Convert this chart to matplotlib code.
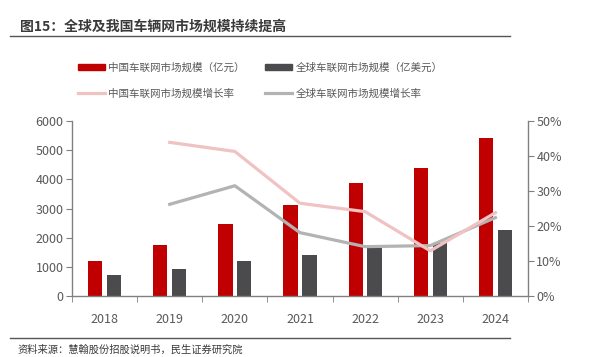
import matplotlib
matplotlib.use("Agg")
import matplotlib.pyplot as plt
import numpy as np
from matplotlib.patches import Patch
from matplotlib.lines import Line2D

plt.rcParams['font.family'] = ['Noto Sans CJK SC', 'DejaVu Sans']

years = ['2018', '2019', '2020', '2021', '2022', '2023', '2024']
china_size = [1200, 1740, 2460, 3110, 3870, 4380, 5420]
global_size = [720, 915, 1200, 1420, 1660, 1830, 2275]
china_growth = [None, 43.9, 41.3, 26.5, 24.1, 12.9, 23.8]
global_growth = [None, 26.2, 31.5, 18.1, 14.1, 14.4, 22.4]

RED = '#C00000'
DARK = '#4B4B4D'
PINK = '#F0C2C2'
GRAY = '#B3B3B3'
TXT = '#595959'
AX = '#808080'

fig = plt.figure(figsize=(5.98, 3.57), dpi=100)
ax = fig.add_axes([72/598, 1-296/357, (528-72)/598, (296-121)/357])
ax2 = ax.twinx()

x = np.arange(len(years))
w = 0.22
ax.bar(x - 0.145, china_size, w, color=RED, zorder=2)
ax.bar(x + 0.145, global_size, w, color=DARK, zorder=2)

ax.set_ylim(0, 6000)
ax.set_yticks(range(0, 6001, 1000))
ax.set_xlim(-0.5, 6.5)
ax.set_xticks(x)
ax.set_xticklabels(years)
ax.set_xticks(np.arange(-0.5, 7, 1), minor=True)
ax.tick_params(axis='x', which='major', length=0, pad=12, labelsize=9, labelcolor=TXT)
ax.tick_params(axis='x', which='minor', length=4, color=AX, direction='out')
ax.tick_params(axis='y', length=4, color=AX, labelsize=9, labelcolor=TXT, pad=2)

gx = [i for i, v in enumerate(china_growth) if v is not None]
ax2.plot(gx, [global_growth[i] for i in gx], color=GRAY, lw=2.3, zorder=3)
ax2.plot(gx, [china_growth[i] for i in gx], color=PINK, lw=2.3, zorder=4)
ax2.set_ylim(0, 50)
ax2.set_yticks(range(0, 51, 10))
ax2.set_yticklabels([f'{v}%' for v in range(0, 51, 10)])
ax2.tick_params(axis='y', length=4, color=AX, labelsize=9, labelcolor=TXT, pad=2)

for a in (ax, ax2):
    a.spines['top'].set_visible(False)
    for s in ('left', 'right', 'bottom'):
        a.spines[s].set_color(AX)
        a.spines[s].set_linewidth(1.0)
ax.spines['right'].set_visible(False)
ax2.spines['left'].set_visible(False)
ax2.spines['bottom'].set_visible(False)
ax.set_zorder(1)
ax2.set_zorder(2)
ax2.patch.set_visible(False)

handles = [Patch(color=RED), Line2D([], [], color=PINK, lw=2.3),
           Patch(color=DARK), Line2D([], [], color=GRAY, lw=2.3)]
labels = ['中国车联网市场规模（亿元）', '中国车联网市场规模增长率',
          '全球车联网市场规模（亿美元）', '全球车联网市场规模增长率']
leg = fig.legend(handles, labels, ncol=2, loc='center', bbox_to_anchor=(0.435, 0.7745),
                 frameon=False, fontsize=7.6, handlelength=2.6, handleheight=0.6,
                 handletextpad=0.3, columnspacing=1.9, labelspacing=1.45)
for t in leg.get_texts():
    t.set_color(TXT)

fig.text(20/598, 1-27/357, '图15：全球及我国车辆网市场规模持续提高', fontsize=10,
         fontweight='bold', color='#3a3a3a', va='center', ha='left')
fig.add_artist(Line2D([10/598, 510/598], [1-36/357, 1-36/357], color='#555555', lw=1.0))
fig.add_artist(Line2D([10/598, 510/598], [1-338/357, 1-338/357], color='#555555', lw=1.0))
fig.text(18/598, 1-350/357, '资料来源：慧翰股份招股说明书，民生证券研究院', fontsize=7.4,
         color='#3a3a3a', va='center', ha='left')

fig.savefig('out.png', dpi=100)
